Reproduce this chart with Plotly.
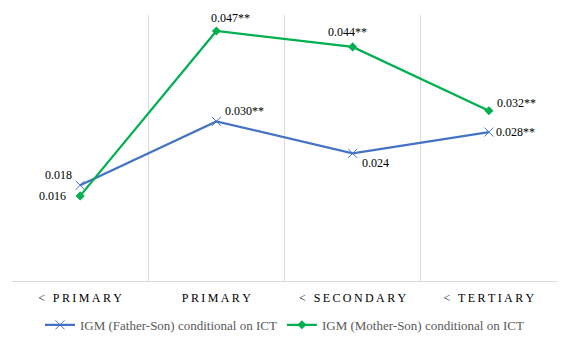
import plotly.graph_objects as go

categories = ["< PRIMARY", "PRIMARY", "< SECONDARY", "< TERTIARY"]
father_son = [0.018, 0.030, 0.024, 0.028]
mother_son = [0.016, 0.047, 0.044, 0.032]
father_labels = ["0.018", "0.030**", "0.024", "0.028**"]
mother_labels = ["0.016", "0.047**", "0.044**", "0.032**"]

# label placement styles: (xanchor, xshift, yshift)
father_label_style = [("right", -6, 10), ("left", 7, 10), ("left", 7, -10), ("left", 5, 0)]
mother_label_style = [("right", -12, 0), ("left", -7, 13), ("left", -27, 15), ("left", 6, 8)]

def spaced(s):
    return "\u2009".join(list(s))

xs = list(range(len(categories)))
BLUE = "#4472C4"
GREEN = "#00B050"
FONT = "Liberation Serif, Times New Roman, serif"

fig = go.Figure()
fig.add_trace(go.Scatter(
    x=xs, y=father_son, mode="lines+markers",
    name="IGM (Father-Son) conditional on ICT",
    line=dict(color=BLUE, width=2.25),
    marker=dict(symbol="x-thin", size=9, line=dict(color=BLUE, width=1)),
    cliponaxis=False,
))
fig.add_trace(go.Scatter(
    x=xs, y=mother_son, mode="lines+markers",
    name="IGM (Mother-Son) conditional on ICT",
    line=dict(color=GREEN, width=2.25),
    marker=dict(symbol="diamond", size=7, color=GREEN),
    cliponaxis=False,
))

annotations = []
for vals, labels, styles in ((father_son, father_labels, father_label_style),
                             (mother_son, mother_labels, mother_label_style)):
    for x, v, t, (xa, dx, dy) in zip(xs, vals, labels, styles):
        annotations.append(dict(
            x=x, y=v, xref="x", yref="y", text=t, showarrow=False,
            xanchor=xa, yanchor="middle", xshift=dx, yshift=dy,
            font=dict(family=FONT, size=12, color="#000000"),
        ))

fig.update_layout(
    width=570, height=337,
    margin=dict(l=12, r=13, t=15, b=56, autoexpand=False),
    paper_bgcolor="white", plot_bgcolor="white",
    font=dict(family=FONT, size=12, color="#595959"),
    showlegend=True,
    annotations=annotations,
    legend=dict(orientation="h", x=0.5, xanchor="center",
                yref="container", y=0.036, yanchor="middle",
                font=dict(family=FONT, size=13, color="#595959"),
                itemwidth=30, traceorder="normal"),
    xaxis=dict(
        range=[-0.5, 3.5],
        tickvals=xs, ticktext=[spaced(c) for c in categories],
        tickfont=dict(family=FONT, size=12, color="#000000"),
        showgrid=False, zeroline=False,
        showline=True, linecolor="#D9D9D9", linewidth=1,
        ticks="", ticklen=0, automargin=False, ticklabelstandoff=6,
        minor=dict(tickvals=[-0.5, 0.5, 1.5, 2.5, 3.5], showgrid=True,
                   gridcolor="#D9D9D9", gridwidth=1),
    ),
    yaxis=dict(range=[0, 0.05], showgrid=False, zeroline=False,
               showticklabels=False, showline=False, automargin=False),
)

fig.write_html("out.html")
